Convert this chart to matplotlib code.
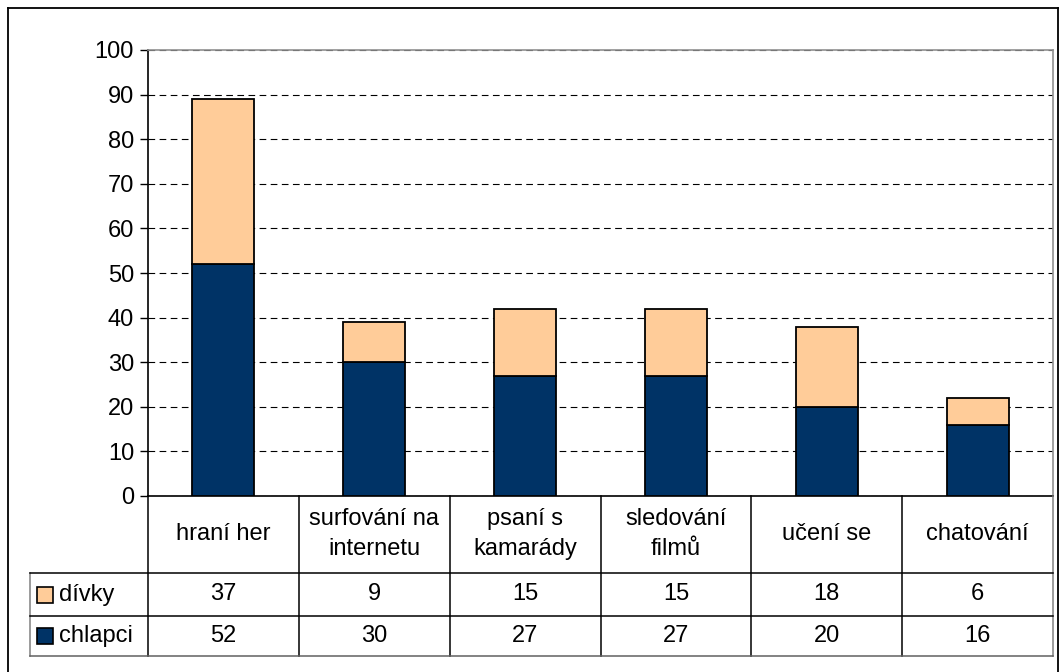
import numpy as np
import matplotlib.pyplot as plt
from matplotlib.patches import Rectangle
from matplotlib.lines import Line2D

plt.rcParams['font.family'] = ['Liberation Sans', 'DejaVu Sans']

# data
categories = ['hraní her', 'surfování na\ninternetu', 'psaní s\nkamarády',
              'sledování\nfilmů', 'učení se', 'chatování']
divky = [37, 9, 15, 15, 18, 6]
chlapci = [52, 30, 27, 27, 20, 16]
series_names = ['dívky', 'chlapci']
colors = ['#FFCC99', '#003366']

W, H = 1061, 672
fig = plt.figure(figsize=(W / 100, H / 100), dpi=100)
fs = 17

# plot area (pixel layout)
pl, pr, pt, pb = 148, 1053, 50, 496
ax = fig.add_axes([pl / W, (H - pb) / H, (pr - pl) / W, (pb - pt) / H])
x = np.arange(len(categories))
ax.bar(x, chlapci, width=0.41, color=colors[1], edgecolor='black', linewidth=1.3, zorder=3)
ax.bar(x, divky, width=0.41, bottom=chlapci, color=colors[0], edgecolor='black', linewidth=1.3, zorder=3)
ax.set_xlim(-0.5, len(categories) - 0.5)
ax.set_ylim(0, 100)
ax.set_yticks(range(0, 101, 10))
ax.set_xticks([])
ax.yaxis.grid(True, color='black', linestyle=(0, (6, 4)), linewidth=0.8, zorder=0)
ax.tick_params(axis='y', direction='out', length=6, width=1, labelsize=fs, pad=4)
ax.spines['left'].set_color('black')
ax.spines['bottom'].set_color('black')
ax.spines['top'].set_color('#909090')
ax.spines['right'].set_color('#909090')
for s in ax.spines.values():
    s.set_linewidth(1.2)

# data table below the plot
tl, tb = 30, 656
col_w = (pr - pl) / len(categories)
left_units = (pl - tl) / col_w
tax = fig.add_axes([tl / W, (H - tb) / H, (pr - tl) / W, (tb - pb) / H])
tax.set_xlim(-0.5 - left_units, len(categories) - 0.5)
tax.set_ylim(tb - pb, 0)
tax.axis('off')
row_lines = [77, 120, 160]
x0 = -0.5 - left_units
xe = len(categories) - 0.5
for b in np.arange(-0.5, len(categories), 1.0):
    tax.add_line(Line2D([b, b], [0, 160], color='black' if b < xe else '#808080', lw=1.1, clip_on=False))
tax.add_line(Line2D([x0, x0], [77, 160], color='#808080', lw=1.1, clip_on=False))
for r in row_lines:
    tax.add_line(Line2D([x0, xe], [r, r], color='black' if r < 160 else '#606060', lw=1.1, clip_on=False))

for i, c in enumerate(categories):
    tax.text(i, 38, c, ha='center', va='center', fontsize=fs, linespacing=1.45)
rows = [divky, chlapci]
centers = [(77 + 120) / 2, (120 + 160) / 2]
for vals, yc, name, col in zip(rows, centers, series_names, colors):
    for i, v in enumerate(vals):
        tax.text(i, yc, str(v), ha='center', va='center', fontsize=fs)
    sq = 16 / col_w
    tax.add_patch(Rectangle((x0 + 7 / col_w, yc - 8), sq, 16, facecolor=col,
                            edgecolor='black', lw=1.2, clip_on=False))
    tax.text(x0 + 29 / col_w, yc, name, ha='left', va='center', fontsize=fs)

# chart border
fig.add_artist(Line2D([8 / W, 8 / W], [0, 1 - 8 / H], color='black', lw=1.3))
fig.add_artist(Line2D([8 / W, 1058 / W], [1 - 8 / H, 1 - 8 / H], color='black', lw=1.3))
fig.add_artist(Line2D([1058 / W, 1058 / W], [0, 1 - 8 / H], color='black', lw=1.3))

fig.savefig('out.png', dpi=100, facecolor='white')
